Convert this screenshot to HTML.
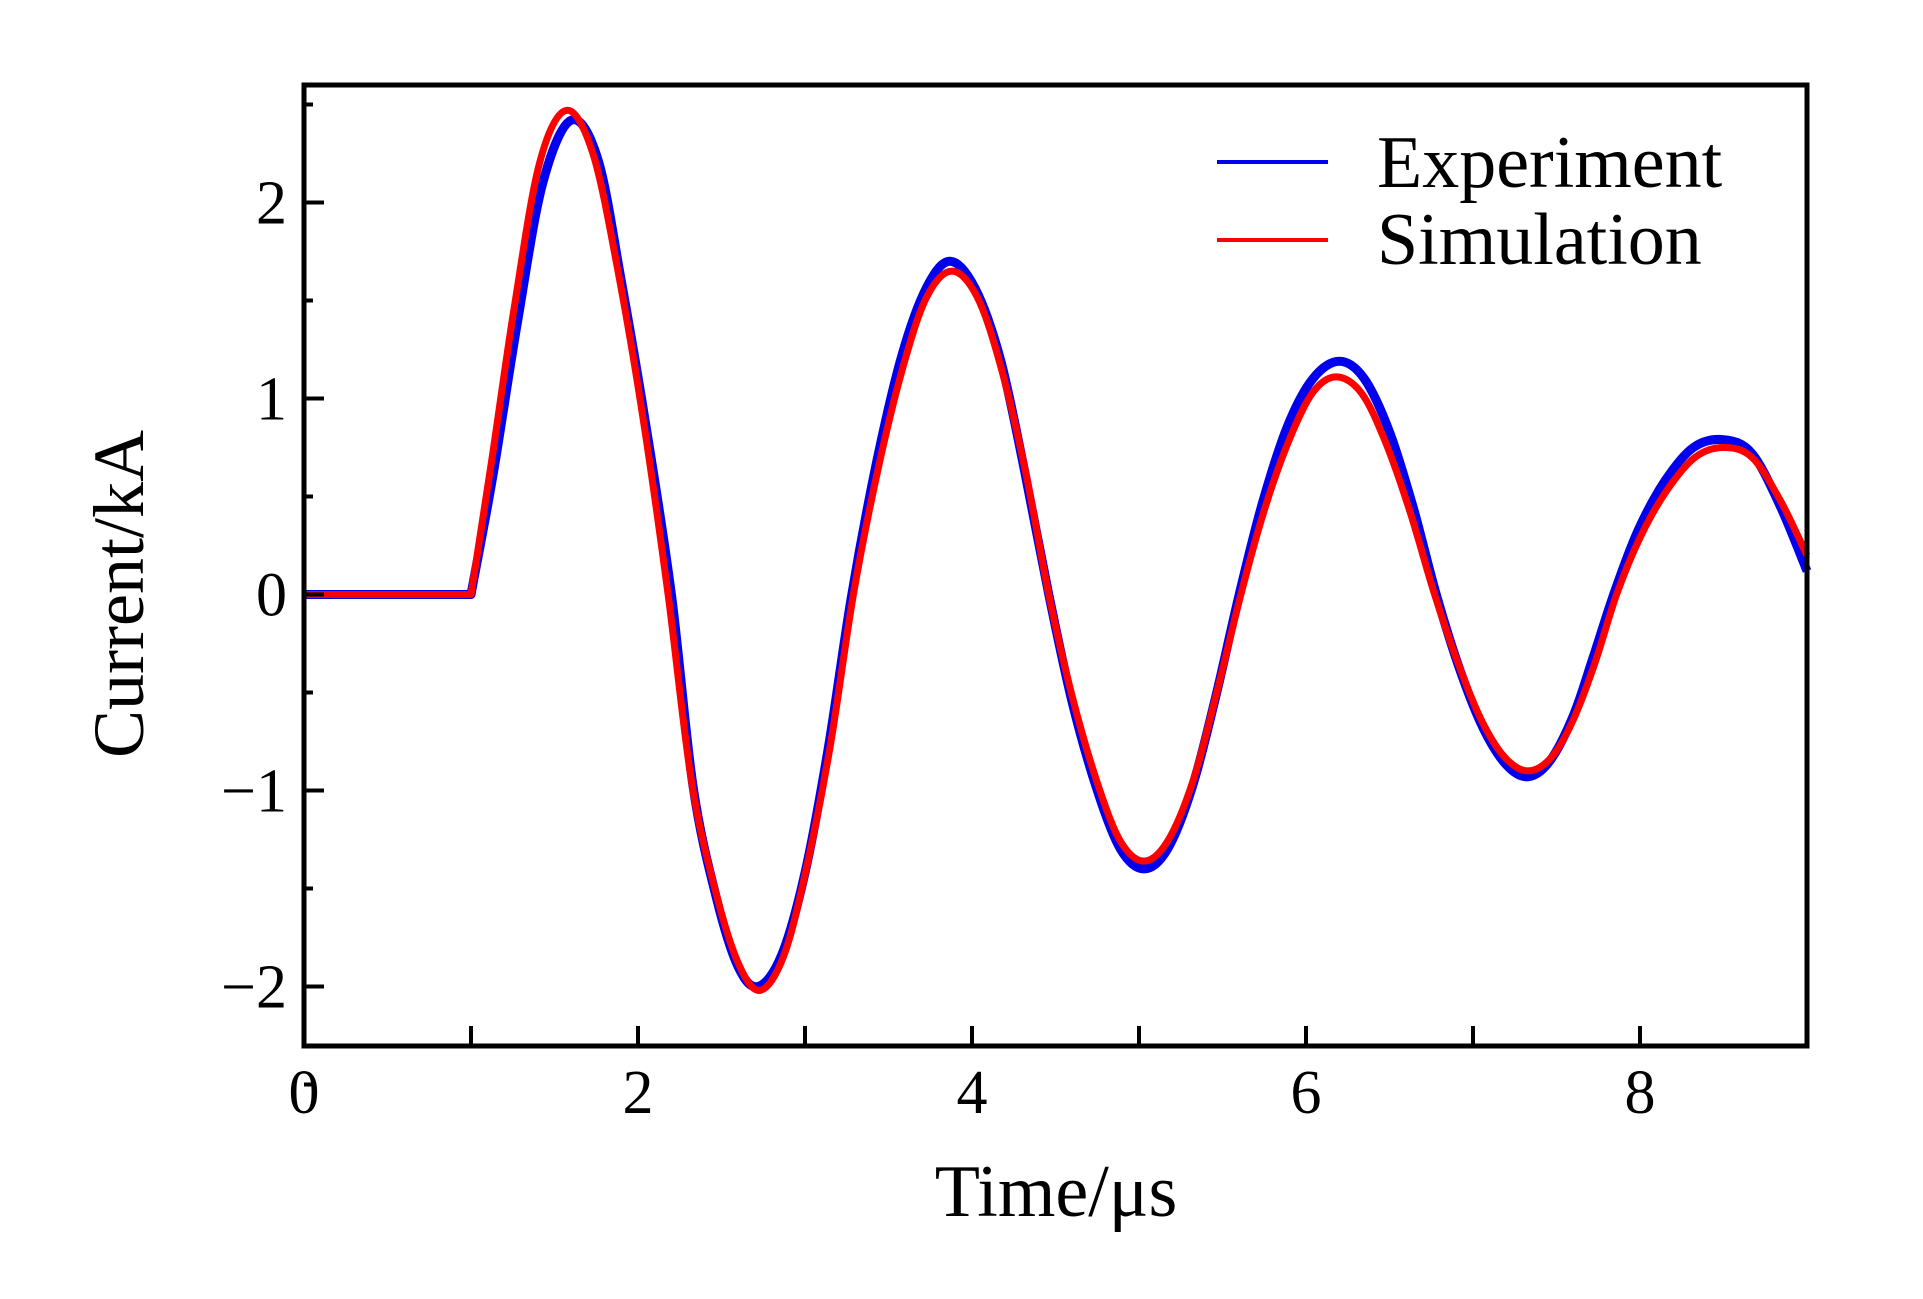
<!DOCTYPE html>
<html><head><meta charset="utf-8"><style>
html,body{margin:0;padding:0;background:#fff;}
svg{display:block;font-family:"Liberation Serif",serif;}
</style></head><body>
<svg id="chart" width="1923" height="1299" viewBox="0 0 1923 1299" xmlns="http://www.w3.org/2000/svg">
<g id="plot"></g>
<g id="axes"></g>
<text x="1056" y="1216" font-size="74" text-anchor="middle">Time/μs</text>
<text x="0" y="0" font-size="72" text-anchor="middle" transform="translate(143,594) rotate(-90)">Current/kA</text>
<g>
<line x1="1217" y1="162" x2="1328" y2="162" stroke="#0000ee" stroke-width="4"/>
<text x="1377" y="187" font-size="74">Experiment</text>
<line x1="1217" y1="240" x2="1328" y2="240" stroke="#ff0000" stroke-width="4"/>
<text x="1377" y="264" font-size="74">Simulation</text>
</g>
</svg>
<script>
const xTicks = [0,1,2,3,4,5,6,7,8,9];
const xTickLabels = ["0","","2","","4","","6","","8",""];
const yTicks = [-2,-1,0,1,2];
const yTickLabels = ["\u22122","\u22121","0","1","2"];
const yMinorTicks = [-2.5,-1.5,-0.5,0.5,1.5,2.5];
const simT = [0,1.0,1.12,1.26,1.41,1.57,1.73,1.88,2.03,2.18,2.32,2.46,2.6,2.73,2.87,3.0,3.15,3.29,3.44,3.59,3.73,3.88,4.03,4.17,4.32,4.46,4.6,4.75,4.89,5.03,5.17,5.32,5.46,5.61,5.75,5.9,6.04,6.18,6.33,6.47,6.62,6.77,6.91,7.05,7.19,7.33,7.47,7.6,7.73,7.86,8.0,8.16,8.33,8.5,8.67,8.84,9.0];
const simV = [0,0,0.66,1.47,2.2,2.47,2.25,1.65,0.9,0,-0.95,-1.5,-1.88,-2.02,-1.85,-1.43,-0.78,0,0.65,1.17,1.52,1.65,1.52,1.17,0.63,0,-0.52,-0.96,-1.26,-1.36,-1.26,-0.96,-0.52,0,0.43,0.79,1.03,1.11,1.03,0.79,0.43,0,-0.35,-0.64,-0.83,-0.90,-0.83,-0.64,-0.35,0,0.29,0.53,0.70,0.75,0.70,0.48,0.2];
const expT = [0,1.0,1.13,1.28,1.43,1.6,1.76,1.9,2.05,2.2,2.33,2.47,2.6,2.72,2.86,3.0,3.14,3.28,3.43,3.58,3.73,3.87,4.02,4.17,4.31,4.46,4.6,4.75,4.89,5.03,5.17,5.32,5.46,5.6,5.74,5.89,6.04,6.2,6.35,6.5,6.64,6.78,6.92,7.06,7.2,7.33,7.46,7.6,7.72,7.85,7.99,8.15,8.32,8.5,8.67,8.84,9.0];
const expV = [0,0,0.6,1.4,2.1,2.42,2.22,1.6,0.85,0,-0.98,-1.55,-1.9,-2.0,-1.84,-1.42,-0.78,0,0.68,1.22,1.57,1.70,1.56,1.2,0.65,0,-0.55,-1.0,-1.3,-1.40,-1.3,-0.98,-0.52,0,0.47,0.86,1.1,1.19,1.1,0.83,0.45,0,-0.38,-0.68,-0.87,-0.93,-0.85,-0.62,-0.32,0.02,0.33,0.58,0.75,0.79,0.72,0.45,0.12];
const NS='http://www.w3.org/2000/svg';
const L=304,R=1807,T=85,B=1046;
function sx(t){return L+(t-0)/(9-0)*(R-L);}
function sy(v){return 594.5-v*196;}
function mk(tag,attrs,parent){const e=document.createElementNS(NS,tag);for(const k in attrs)e.setAttribute(k,attrs[k]);parent.appendChild(e);return e;}
function pathFrom(ts,vs){
  const p=ts.map((t,i)=>[sx(t),sy(vs[i])]);
  let d='M'+p[0][0].toFixed(1)+','+p[0][1].toFixed(1);
  for(let i=0;i<p.length-1;i++){
    const p0=p[Math.max(0,i-1)],p1=p[i],p2=p[i+1],p3=p[Math.min(p.length-1,i+2)];
    let c1=[p1[0]+(p2[0]-p0[0])/6,p1[1]+(p2[1]-p0[1])/6];
    let c2=[p2[0]-(p3[0]-p1[0])/6,p2[1]-(p3[1]-p1[1])/6];
    if(i===0){c1=[p1[0],p1[1]];c2=[p2[0],p2[1]];}
    if(i===1){c1=[p1[0]+(p2[0]-p1[0])/3,p1[1]+(p2[1]-p1[1])/3];}
    d+=' C'+c1[0].toFixed(1)+','+c1[1].toFixed(1)+' '+c2[0].toFixed(1)+','+c2[1].toFixed(1)+' '+p2[0].toFixed(1)+','+p2[1].toFixed(1);
  }
  return d;
}
const plot=document.getElementById('plot');
const pe=mk('path',{d:pathFrom(expT,expV),fill:'none',stroke:'#0000ee','stroke-width':9,'stroke-linejoin':'round'},plot);


const ps=mk('path',{d:pathFrom(simT,simV),fill:'none',stroke:'#ff0000','stroke-width':7,'stroke-linejoin':'round'},plot);


const ax=document.getElementById('axes');
const frame=mk('rect',{x:L,y:T,width:R-L,height:B-T,fill:'none',stroke:'#000','stroke-width':5},ax);


xTicks.forEach((t,i)=>{
  if(t>0 && t<9){
    const tk=mk('line',{x1:sx(t),y1:B,x2:sx(t),y2:B-20,stroke:'#000','stroke-width':4},ax);
    
    
  }
  if(xTickLabels[i]){
    const tx=mk('text',{x:sx(t),y:1113,'font-size':62,'text-anchor':'middle'},ax);
    tx.textContent=xTickLabels[i];
    
    
  }
});
yTicks.forEach((v,i)=>{
  const tk=mk('line',{x1:L,y1:sy(v),x2:L+20,y2:sy(v),stroke:'#000','stroke-width':4},ax);
  
  
  const tx=mk('text',{x:287,y:sy(v)+21,'font-size':62,'text-anchor':'end'},ax);
  tx.textContent=yTickLabels[i];
  
  
});
yMinorTicks.forEach(v=>{
  const tk=mk('line',{x1:L,y1:sy(v),x2:L+9,y2:sy(v),stroke:'#000','stroke-width':4},ax);
  
  
});
</script>
</body></html>
